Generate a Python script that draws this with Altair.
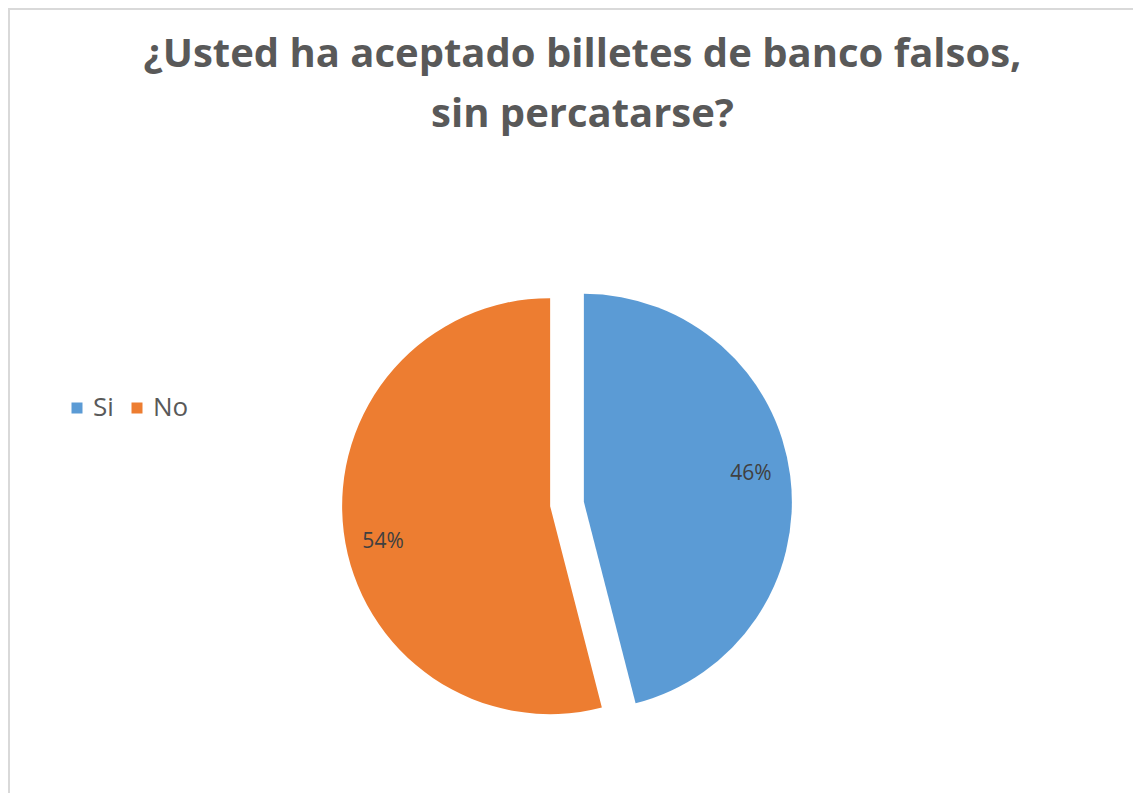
import altair as alt
import pandas as pd

categories = ["Si", "No"]
values = [46, 54]
colors = ["#5B9BD5", "#ED7D31"]
title_lines = ["¿Usted ha aceptado billetes de banco falsos,", "sin percatarse?"]

df = pd.DataFrame({"cat": categories, "val": values, "idx": list(range(len(categories)))})

W, H = 1125, 785
CX, CY = 559, 496
R = 208
EXPLODE = 17
LABEL_R = 170
LABEL_ROT = -0.06

base = (
    alt.Chart(df)
    .transform_joinaggregate(total="sum(val)")
    .transform_window(cum="sum(val)", sort=[alt.SortField("idx")], frame=[None, 0])
    .transform_calculate(
        mid="2*PI*(datum.cum - datum.val/2)/datum.total",
        pct="datum.val/datum.total",
    )
    .transform_calculate(
        px=f"{CX} + {EXPLODE}*sin(datum.mid)",
        py=f"{CY} - {EXPLODE}*cos(datum.mid)",
    )
    .transform_calculate(
        lx=f"datum.px + {LABEL_R}*sin(datum.mid + {LABEL_ROT})",
        ly=f"datum.py - {LABEL_R}*cos(datum.mid + {LABEL_ROT})",
    )
)

arcs = base.mark_arc(outerRadius=R).encode(
    theta=alt.Theta("val:Q", stack=True),
    order=alt.Order("idx:Q"),
    color=alt.Color(
        "cat:N",
        scale=alt.Scale(domain=categories, range=colors),
        legend=alt.Legend(
            title=None,
            orient="none",
            legendX=56,
            legendY=387,
            padding=0,
            direction="horizontal",
            symbolType="square",
            symbolSize=121,
            symbolStrokeWidth=0,
            labelFontSize=26,
            labelFont="Open Sans",
            labelColor="#595959",
            labelOffset=3,
            columnPadding=10,
        ),
    ),
    x=alt.X("px:Q", scale=None),
    y=alt.Y("py:Q", scale=None),
)

labels = base.mark_text(font="Open Sans", fontSize=21, color="#404040", dy=4).encode(
    x=alt.X("lx:Q", scale=None),
    y=alt.Y("ly:Q", scale=None),
    text=alt.Text("pct:Q", format=".0%"),
)

left_border = alt.Chart(df).mark_rule(color="#D9D9D9", strokeWidth=2).encode(
    x=alt.value(1), y=alt.value(0), y2=alt.value(H)
)
top_border = alt.Chart(df).mark_rule(color="#D9D9D9", strokeWidth=2).encode(
    y=alt.value(1), x=alt.value(0), x2=alt.value(W)
)

chart = (
    alt.layer(left_border, top_border, arcs, labels)
    .properties(
        width=W,
        height=H,
        padding=0,
        autosize=alt.AutoSizeParams(type="none"),
        title=alt.Title(
            text=title_lines,
            font="Open Sans",
            fontSize=40,
            fontWeight="bold",
            color="#595959",
            anchor="middle",
            lineHeight=60,
            offset=-128,
            dx=12,
        ),
    )
    .configure_view(stroke=None)
)

chart.save("out.html", embed_options={"renderer": "svg", "actions": False})
